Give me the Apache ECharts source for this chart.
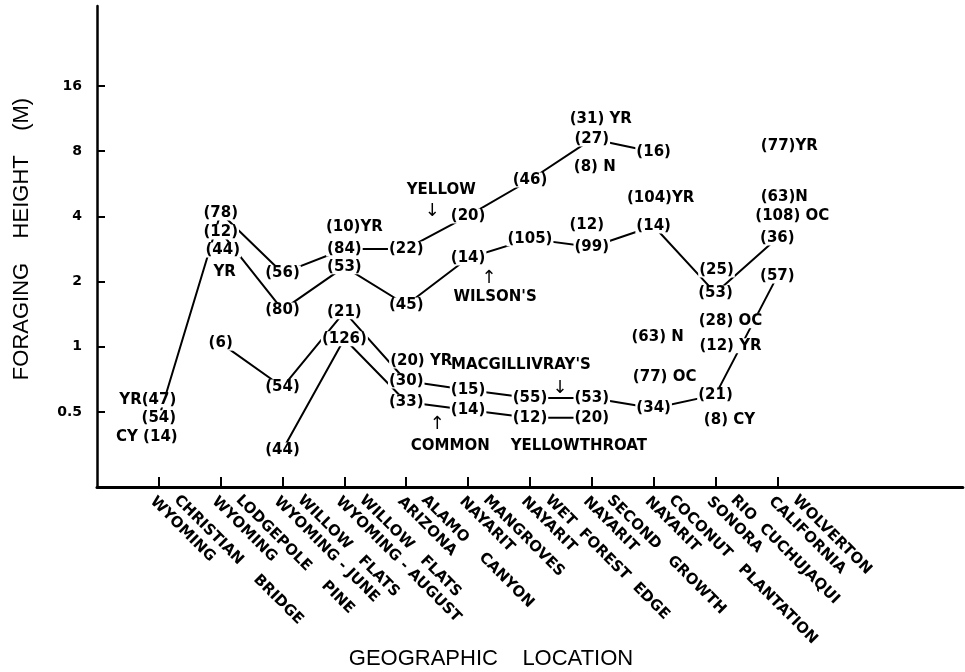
<!DOCTYPE html>
<html><head><meta charset="utf-8">
<script src="https://cdn.jsdelivr.net/npm/echarts@6/dist/echarts.min.js"></script>
<style>html,body{margin:0;padding:0;background:#fff}#c{width:965px;height:672px}</style>
</head><body><div id="c"></div>
<script>
// ---- data ----
const locations = [
  '   CHRISTIAN    BRIDGE\nWYOMING',
  '   LODGEPOLE    PINE\nWYOMING',
  '   WILLOW   FLATS\nWYOMING - JUNE',
  '   WILLOW   FLATS\nWYOMING - AUGUST',
  '   ALAMO    CANYON\nARIZONA',
  '   MANGROVES\nNAYARIT',
  '   WET  FOREST  EDGE\nNAYARIT',
  '   SECOND   GROWTH\nNAYARIT',
  '   COCONUT   PLANTATION\nNAYARIT',
  '   RIO  CUCHUJAQUI\nSONORA',
  '   WOLVERTON\nCALIFORNIA'
];
const yTicks = [0.5, 1, 2, 4, 8, 16];

const yellowHeight = [0.47, 4.15, 2.19, 2.83, 2.83, 4.02, 5.89, 9.1, 7.93, null, null];
const yellowN      = [54, 78, 56, 84, 22, 20, 46, 27, 16, null, null];
const wilsonHeight = [null, 3.39, 1.48, 2.34, 1.56, 2.57, 3.15, 2.89, 3.61, 1.77, 3.18];
const wilsonN      = [null, 12, 80, 53, 45, 14, 105, 99, 14, 53, 36];
const macgHeight   = [null, 1.04, 0.652, 1.45, 0.695, 0.632, 0.58, 0.58, 0.52, 0.60, 2.12];
const macgN        = [null, 6, 54, 21, 30, 15, 55, 53, 34, 21, 57];
const cyHeight     = [null, null, 0.334, 1.09, 0.556, 0.511, 0.47, 0.47, null, null, null];
const cyN          = [null, null, 44, 126, 33, 14, 12, 20, null, null, null];

// other samples written beside the lines (location index, height, text)
const noteText   = ['YR(47)', 'CY (14)', '(44)', 'YR', '(10)YR', '(20) YR', '(31) YR', '(8) N', '(12)', '(104)YR',
                    '(63) N', '(77) OC', '(25)', '(28) OC', '(12) YR', '(8) CY', '(77)YR', '(63)N', '(108) OC'];
const noteLoc    = [0, 0, 1, 1, 3, 4, 7, 7, 7, 8, 8, 8, 9, 9, 9, 9, 10, 10, 10];
const noteHeight = [0.568, 0.383, 2.80, 2.21, 3.57, 0.86, 11.27, 6.76, 3.65, 4.86,
                    1.11, 0.726, 2.26, 1.32, 1.01, 0.459, 8.45, 4.92, 4.02];

// species names and arrows
const speciesText   = ['YELLOW', '\u2193', "WILSON'S", '\u2191', "MACGILLIVRAY'S", '\u2193', 'COMMON    YELLOWTHROAT', '\u2191'];
const speciesLoc    = [4, 4, 5, 5, 6, 6, 6, 4];
const speciesHeight = [5.3, 4.24, 1.70, 2.08, 0.824, 0.645, 0.348, 0.44];

// ---- layout / style (not data) ----
const noteShift    = [-11, -12, 2, 4, 10, 15, 9, 3, -5, 7, 4, 11, 1, 15, 15, 14, 12, 7, 15];
const speciesShift = [35, 26, 27, 21, -9, 30, -1, 31];

const cats = [''].concat(locations, ['', '', '']);
const pad = a => [null].concat(a, [null, null, null]);
const FONT = 'DejaVu Sans';
const INK = '#000';

function lineSeries(h) {
  return {
    type: 'line', data: pad(h), z: 2, symbol: 'none', connectNulls: false,
    lineStyle: {color: INK, width: 2}, silent: true, animation: false
  };
}
function labelSeries(h, n) {
  const d = [];
  h.forEach((v, i) => { if (v != null) d.push({value: [i + 1, v], n: n[i]}); });
  return {
    type: 'scatter', data: d, z: 5, symbol: 'circle', symbolSize: 1,
    itemStyle: {color: '#fff', opacity: 1}, silent: true, animation: false,
    label: {
      show: true, position: 'inside', formatter: p => '(' + p.data.n + ')',
      fontFamily: FONT, fontWeight: 'bold', fontSize: 15, color: INK,
      backgroundColor: '#fff', padding: [0, 1]
    }
  };
}
const notes = noteText.map((t, i) => ({
  value: [noteLoc[i] + 1, noteHeight[i]], t: t,
  label: {offset: [noteShift[i], 0]}
}));
const species = speciesText.map((t, i) => ({
  value: [speciesLoc[i] + 1, speciesHeight[i]], t: t,
  label: {offset: [speciesShift[i], 0],
          fontWeight: t.length === 1 ? 'normal' : 'bold',
          fontSize: t.length === 1 ? 18 : 15}
}));

const chart = echarts.init(document.getElementById('c'), null, {renderer: 'canvas'});
chart.setOption({
  backgroundColor: '#fff',
  animation: false,
  grid: {left: 97, top: 6, width: 900, height: 481, containLabel: false},
  xAxis: {
    type: 'category', data: cats, boundaryGap: false,
    axisLine: {lineStyle: {color: INK, width: 3}},
    axisTick: {inside: true, length: 10, lineStyle: {color: INK, width: 2},
               interval: (i, v) => v !== ''},
    axisLabel: {interval: 0, rotate: -45, margin: 6, fontFamily: FONT, fontWeight: 'bold',
                fontSize: 15, lineHeight: 18, color: INK},
    splitLine: {show: false}
  },
  yAxis: {
    type: 'log', logBase: 2, min: 0.2253, max: 37.45,
    axisLine: {show: true, lineStyle: {color: INK, width: 2.5}},
    axisTick: {show: true, inside: true, length: 8, customValues: yTicks,
               lineStyle: {color: INK, width: 2}},
    axisLabel: {customValues: yTicks, margin: 15, fontFamily: FONT, fontWeight: 'bold',
                fontSize: 14, color: INK, formatter: v => String(v)},
    splitLine: {show: false}, minorTick: {show: false}
  },
  graphic: [
    {type: 'text', x: 491, y: 659, silent: true,
     style: {text: 'GEOGRAPHIC    LOCATION', align: 'center', verticalAlign: 'middle',
             fontFamily: 'Liberation Sans', fontSize: 22, fill: INK}},
    {type: 'text', x: 22, y: 239, rotation: Math.PI / 2, silent: true,
     style: {text: 'FORAGING    HEIGHT    (M)', align: 'center', verticalAlign: 'middle',
             fontFamily: 'Liberation Sans', fontSize: 22, fill: INK}}
  ],
  series: [
    lineSeries(yellowHeight), lineSeries(wilsonHeight), lineSeries(macgHeight), lineSeries(cyHeight),
    labelSeries(yellowHeight, yellowN), labelSeries(wilsonHeight, wilsonN),
    labelSeries(macgHeight, macgN), labelSeries(cyHeight, cyN),
    {
      type: 'scatter', data: notes, z: 6, symbol: 'circle', symbolSize: 1,
      itemStyle: {color: '#fff', opacity: 1}, silent: true, animation: false,
      label: {show: true, position: 'inside', formatter: p => p.data.t,
              fontFamily: FONT, fontWeight: 'bold', fontSize: 15, color: INK,
              backgroundColor: '#fff', padding: [0, 1]}
    },
    {
      type: 'scatter', data: species, z: 6, symbol: 'circle', symbolSize: 1,
      itemStyle: {color: '#fff', opacity: 1}, silent: true, animation: false,
      label: {show: true, position: 'inside', formatter: p => p.data.t,
              fontFamily: FONT, fontWeight: 'bold', fontSize: 15, color: INK}
    }
  ]
});
</script></body></html>
